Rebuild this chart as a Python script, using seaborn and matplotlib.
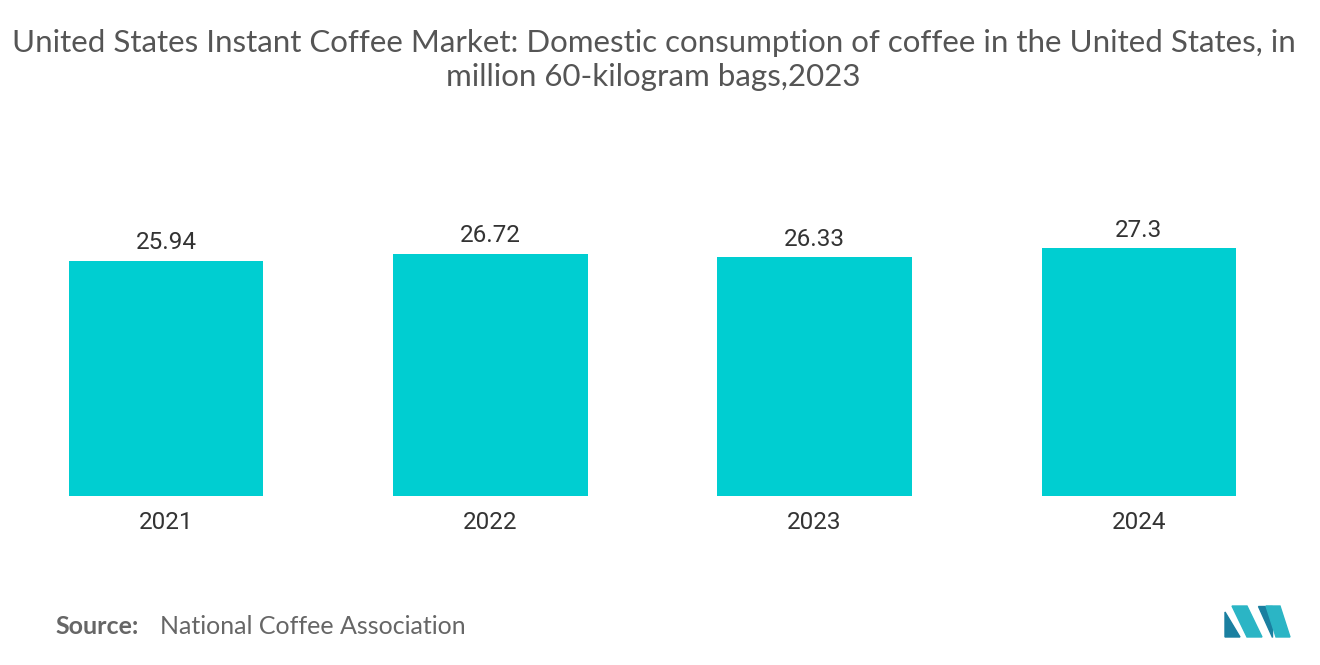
import matplotlib
matplotlib.use("Agg")
import matplotlib.pyplot as plt
from matplotlib.patches import Polygon
import seaborn as sns
import pandas as pd

# chart data
years = ["2021", "2022", "2023", "2024"]
values = [25.94, 26.72, 26.33, 27.3]

df = pd.DataFrame({"year": years, "value": values})

fig = plt.figure(figsize=(13.2, 6.65), dpi=100)
ax = fig.add_axes([4 / 1320, 1 - 496 / 665, 1297 / 1320, 272 / 665])

sns.barplot(data=df, x="year", y="value", color="#00CED1", saturation=1,
            width=0.6, ax=ax)
ax.set_ylim(0, 30)
ax.set_xlim(-0.5, len(years) - 0.5)

for i, v in enumerate(values):
    ax.text(i, v + 0.7, f"{v:g}", ha="center", va="bottom",
            fontsize=17.5, color="#333333", family="Roboto")

ax.set_xlabel("")
ax.set_ylabel("")
ax.set_yticks([])
ax.tick_params(axis="x", length=0, pad=11, labelsize=17.5, labelcolor="#333333")
for lbl in ax.get_xticklabels():
    lbl.set_family("Roboto")
sns.despine(ax=ax, left=True, bottom=True)

fig.text(0.495, 1 - 60 / 665,
         "United States Instant Coffee Market: Domestic consumption of coffee in the United States, in\nmillion 60-kilogram bags,2023",
         ha="center", va="center", fontsize=22.5, color="#555555",
         family="Lato", linespacing=1.3)

fig.text(55 / 1320, 1 - 627 / 665, "Source:", fontsize=18, color="#666666",
         family="Lato", fontweight="bold", va="center")
fig.text(160 / 1320, 1 - 627 / 665, "National Coffee Association", fontsize=18,
         color="#666666", family="Lato", va="center")

# simple logo shapes
def px(x, y):
    return (x / 1320, 1 - y / 665)

logo = [
    ([(1225, 637), (1225, 612), (1240, 637)], "#1A7FA0"),
    ([(1232, 606), (1247, 606), (1262, 637), (1247, 637)], "#2BB5C5"),
    ([(1258, 606), (1272, 606), (1272, 637)], "#1A7FA0"),
    ([(1266, 606), (1280, 606), (1290, 637), (1276, 637)], "#2BB5C5"),
]
for pts, c in logo:
    fig.patches.append(Polygon([px(*p) for p in pts], closed=True,
                               transform=fig.transFigure, color=c))

fig.savefig("out.png", dpi=100)
